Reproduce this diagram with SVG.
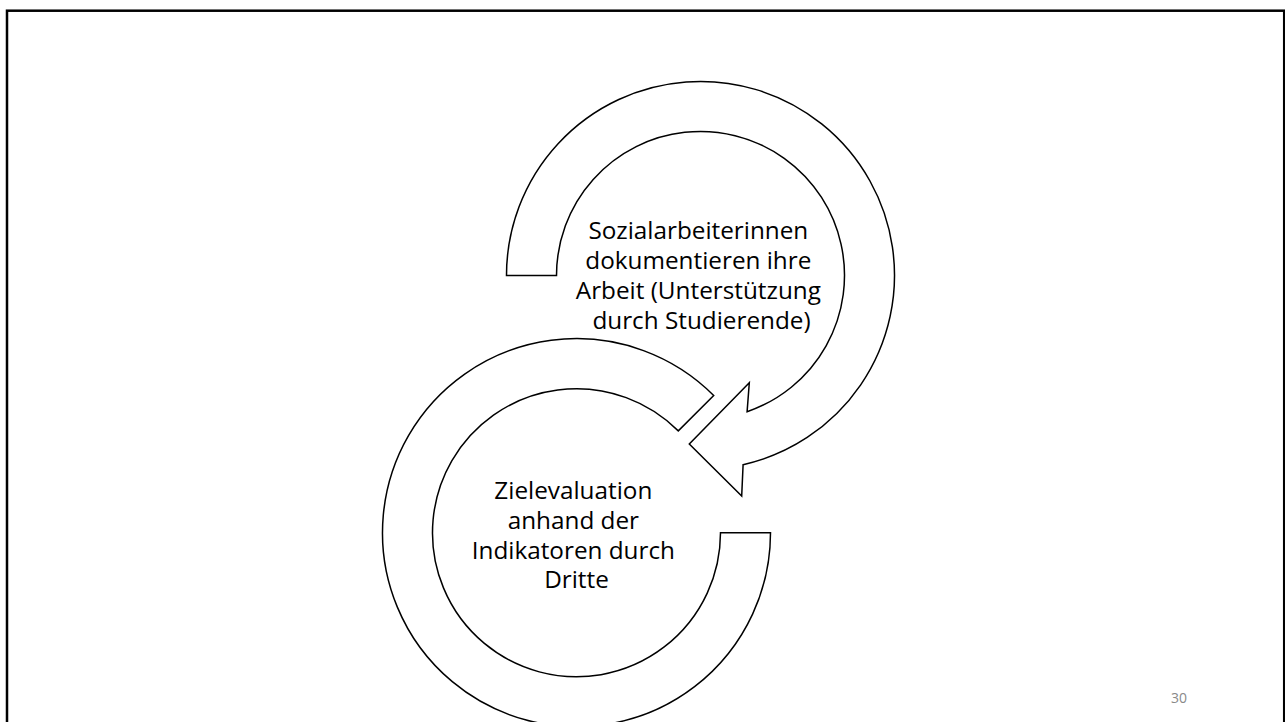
<svg xmlns="http://www.w3.org/2000/svg" width="1285" height="722" viewBox="0 0 1285 722">
  <style>
    .arrow { fill: #ffffff; stroke: #000000; stroke-width: 1.5; stroke-linejoin: miter; }
    .label { font-family: "Open Sans", "Noto Sans", "Liberation Sans", sans-serif; font-size: 24.3px; fill: #000000; text-anchor: middle; }
    .pagenum { font-family: "Open Sans", "Noto Sans", "Liberation Sans", sans-serif; font-size: 14px; fill: #898989; text-anchor: middle; }
  </style>
  <rect x="0" y="0" width="1285" height="722" fill="#ffffff"/>
  <rect id="frame" x="7" y="10.7" width="1277.2" height="800" fill="none" stroke="#000000" stroke-width="2.5"/>
  <g id="connectors"></g>
  <g id="node-bottom">
    <path class="arrow" d="M 770.5 532.7 A 194 194 0 1 1 713.7 395.5 L 678.3 430.9 A 144 144 0 1 0 720.5 532.7 Z"/>
    <text class="label">
      <tspan x="576.5" y="499">Zielevaluation</tspan>
      <tspan x="576.5" y="528.8">anhand der</tspan>
      <tspan x="576.5" y="558.6">Indikatoren durch</tspan>
      <tspan x="576.5" y="588.4">Dritte</tspan>
    </text>
  </g>
  <g id="node-top">
    <path class="arrow" d="M 506.5 275.5 A 194 194 0 1 1 743.1 464.7 L 741.7 496 L 689.3 444 L 749.3 382.7 L 747.1 411.7 A 144 144 0 1 0 556.5 275.5 Z"/>
    <text class="label">
      <tspan x="701.5" y="239.3">Sozialarbeiterinnen</tspan>
      <tspan x="701.5" y="269.1">dokumentieren ihre</tspan>
      <tspan x="701.5" y="298.9">Arbeit (Unterstützung</tspan>
      <tspan x="701.5" y="328.7">durch Studierende)</tspan>
    </text>
  </g>
  <text id="page-number" class="pagenum" x="1179" y="703.3">30</text>
</svg>
